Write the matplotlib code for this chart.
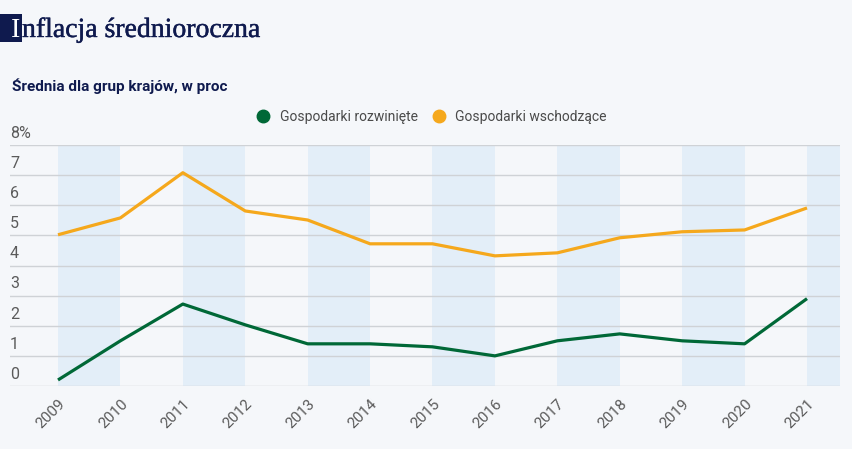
import matplotlib
matplotlib.use("Agg")
import matplotlib.pyplot as plt
from matplotlib.lines import Line2D
from matplotlib.patches import Rectangle
import matplotlib.patheffects as pe

years = [2009, 2010, 2011, 2012, 2013, 2014, 2015, 2016, 2017, 2018, 2019, 2020, 2021]
developed = [0.2, 1.5, 2.72, 2.03, 1.4, 1.4, 1.3, 1.0, 1.5, 1.73, 1.5, 1.4, 2.9]
emerging = [5.02, 5.58, 7.08, 5.81, 5.51, 4.72, 4.72, 4.32, 4.42, 4.92, 5.12, 5.18, 5.91]
ytick_vals = [0, 1, 2, 3, 4, 5, 6, 7, 8]
ytick_labels = ["0", "1", "2", "3", "4", "5", "6", "7", "8%"]
series_names = ["Gospodarki rozwinięte", "Gospodarki wschodzące"]
title_first = "I"
title_rest = "nflacja średnioroczna"
subtitle = "Średnia dla grup krajów, w proc"

BG = "#f5f7fa"
BAND = "#e3eef8"
NAVY = "#0f1a4e"
GREEN = "#006837"
ORANGE = "#f5a81c"
GRID = "#cfd2d6"
TICK = "#5a5a5a"

W, H = 852, 449
fig = plt.figure(figsize=(W / 100, H / 100), dpi=100, facecolor=BG)
ax = fig.add_axes([10 / W, (H - 386) / H, 830 / W, (386 - 145) / H])
ax.set_facecolor(BG)

x0 = years[0] - 48 / 62.42
x1 = years[-1] + 33 / 62.42
ax.set_xlim(x0, x1)
ax.set_ylim(0, 8)

# alternating bands
for y in years[::2]:
    ax.axvspan(y, y + 1, color=BAND, lw=0, zorder=0)

for v in ytick_vals:
    ax.axhline(v, color=GRID, lw=1, zorder=1)

ax.plot(years, developed, color=GREEN, lw=2.3, zorder=3, solid_capstyle="butt")
ax.plot(years, emerging, color=ORANGE, lw=2.3, zorder=3, solid_capstyle="butt")

for s in ax.spines.values():
    s.set_visible(False)
ax.set_yticks([])
ax.set_xticks(years)
ax.set_xticklabels([str(y) for y in years], rotation=45, ha="right",
                   rotation_mode="anchor", color=TICK, fontsize=11,
                   family="Roboto")
ax.tick_params(axis="x", length=0, pad=8)

for v, lab in zip(ytick_vals, ytick_labels):
    ax.annotate(lab, xy=(0, v), xycoords=("axes fraction", "data"),
                xytext=(0, 3), textcoords="offset points", ha="left",
                va="bottom", color=TICK, fontsize=11.5, family="Roboto")

handles = [Line2D([], [], ls="none", marker="o", ms=9, color=GREEN),
           Line2D([], [], ls="none", marker="o", ms=9, color=ORANGE)]
fig.legend(handles, series_names, loc="center", bbox_to_anchor=(428 / W, 1 - 117 / H),
           ncol=2, frameon=False, handletextpad=0.2, columnspacing=0.5,
           prop={"family": "Roboto", "size": 10}, labelcolor="#4a4a4a")

# title with navy block behind first letter
fig.patches.append(Rectangle((0, 1 - 42 / H), 22 / W, 28 / H, transform=fig.transFigure,
                             facecolor=NAVY, edgecolor="none", zorder=0))
stroke = [pe.withStroke(linewidth=0.3, foreground=NAVY)]
fig.text(11 / W, 1 - 37 / H, title_first, color="white", fontsize=20,
         family="Liberation Serif", va="baseline", ha="left")
fig.text(22 / W, 1 - 37 / H, title_rest, color=NAVY, fontsize=20,
         family="Liberation Serif", va="baseline", ha="left", path_effects=stroke)

fig.text(12 / W, 1 - 86 / H, subtitle, color=NAVY, fontsize=11, family="Roboto",
         fontweight="bold", va="center")

fig.savefig("out.png", dpi=100, facecolor=BG)
